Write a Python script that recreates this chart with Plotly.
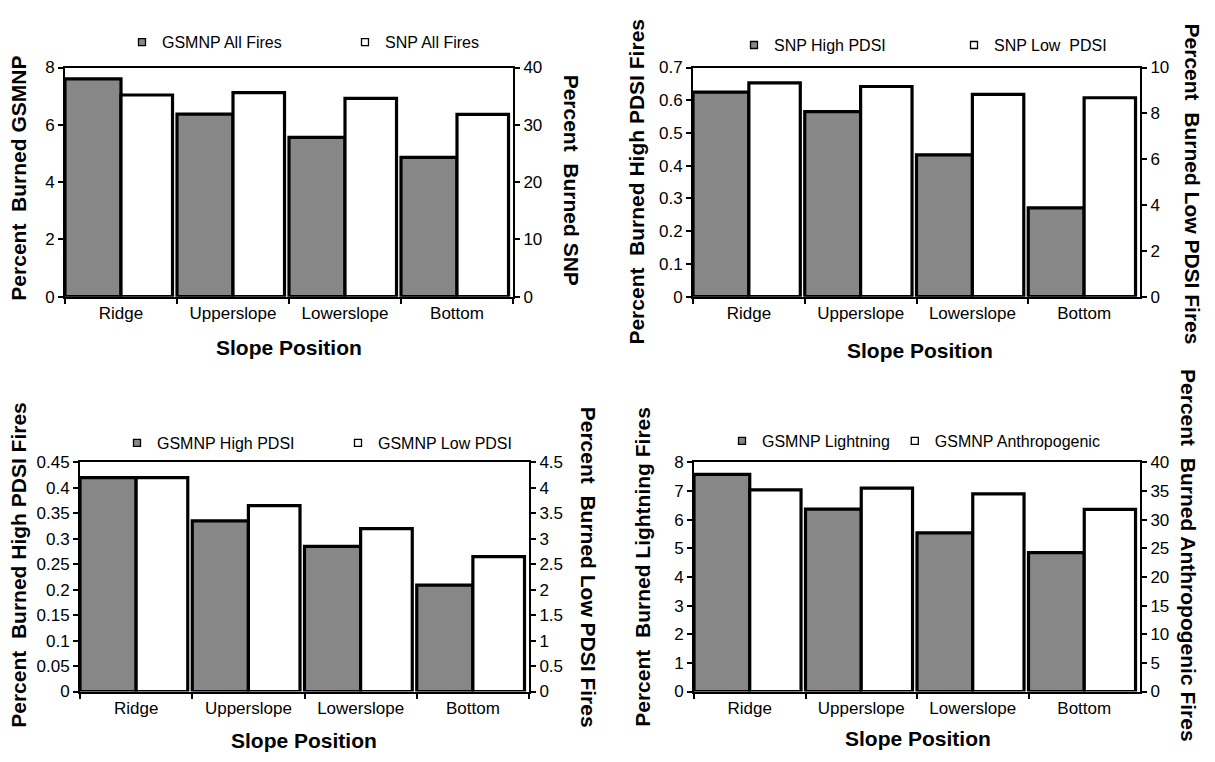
import plotly.graph_objects as go

W, H = 1215, 762

categories = ["Ridge", "Upperslope", "Lowerslope", "Bottom"]

# Panel 1 (top-left)
gsmnp_all = [7.60, 6.37, 5.56, 4.86]
snp_all = [35.2, 35.6, 34.6, 31.8]
# Panel 2 (top-right)
snp_high_pdsi = [0.625, 0.565, 0.433, 0.271]
snp_low_pdsi = [9.33, 9.17, 8.83, 8.68]
# Panel 3 (bottom-left)
gsmnp_high_pdsi = [0.420, 0.335, 0.285, 0.209]
gsmnp_low_pdsi = [4.20, 3.65, 3.20, 2.65]
# Panel 4 (bottom-right)
gsmnp_lightning = [7.58, 6.37, 5.54, 4.85]
gsmnp_anthro = [35.2, 35.5, 34.5, 31.8]

FONT = "Liberation Sans, Arial, sans-serif"
GRAY = "#878787"

def px_x(p):
    return p / W

def px_y(p):
    return 1 - p / H

panels = [
    dict(x="x", yl="y", yr="y2", xdom=(65, 513), ydom=(60, 295),
         left=gsmnp_all, right=snp_all, lnames=("GSMNP All Fires", "SNP All Fires"),
         lrange=(0, 8), ldt=2, rrange=(0, 40), rdt=10, legend="legend",
         leg=(122, 34, 178),
         ltitle="Percent\u00a0 Burned GSMNP", ltpos=(19, 174),
         rtitle="Percent\u00a0 Burned SNP", rtpos=(571, 175),
         xtpos=(289, 347)),
    dict(x="x2", yl="y3", yr="y4", xdom=(693, 1140), ydom=(60, 295),
         left=snp_high_pdsi, right=snp_low_pdsi, lnames=("SNP High PDSI", "SNP Low  PDSI"),
         lrange=(0, 0.7), ldt=0.1, rrange=(0, 10), rdt=2, legend="legend2",
         leg=(734, 37, 175),
         ltitle="Percent\u00a0 Burned High PDSI Fires", ltpos=(637, 177),
         rtitle="Percent\u00a0 Burned Low PDSI Fires", rtpos=(1192, 179),
         xtpos=(920, 350)),
    dict(x="x3", yl="y5", yr="y6", xdom=(80, 529), ydom=(465, 700),
         left=gsmnp_high_pdsi, right=gsmnp_low_pdsi, lnames=("GSMNP High PDSI", "GSMNP Low PDSI"),
         lrange=(0, 0.45), ldt=0.05, rrange=(0, 4.5), rdt=0.5, legend="legend3",
         leg=(117, 445, 176),
         ltitle="Percent\u00a0 Burned High PDSI Fires", ltpos=(19, 570),
         rtitle="Percent\u00a0 Burned Low PDSI Fires", rtpos=(588, 572),
         xtpos=(304, 750)),
    dict(x="x4", yl="y7", yr="y8", xdom=(694, 1140), ydom=(465, 700),
         left=gsmnp_lightning, right=gsmnp_anthro, lnames=("GSMNP Lightning", "GSMNP Anthropogenic"),
         lrange=(0, 8), ldt=1, rrange=(0, 40), rdt=5, legend="legend4",
         leg=(722, 443, None),
         ltitle="Percent\u00a0 Burned Lightning Fires", ltpos=(643, 572),
         rtitle="Percent\u00a0 Burned Anthropogenic Fires", rtpos=(1189, 560),
         xtpos=(918, 748)),
]

fig = go.Figure()
layout = dict(
    width=W, height=H, margin=dict(l=0, r=0, t=0, b=0),
    paper_bgcolor="white", plot_bgcolor="white",
    font=dict(family=FONT, color="black", size=17),
    barmode="overlay", showlegend=True, annotations=[],
)

def axname(ref):
    return "xaxis" + ref[1:] if ref[0] == "x" else "yaxis" + ref[1:]

for p in panels:
    # bars
    fig.add_trace(go.Bar(x=categories, y=p["left"], xaxis=p["x"], yaxis=p["yl"],
                         offset=-0.5, width=0.5, marker=dict(color=GRAY, line=dict(color="black", width=3.2)),
                         showlegend=False, name=p["lnames"][0]))
    fig.add_trace(go.Bar(x=categories, y=p["right"], xaxis=p["x"], yaxis=p["yr"],
                         offset=0.0, width=0.46, marker=dict(color="white", line=dict(color="black", width=3.2)),
                         showlegend=False, name=p["lnames"][1]))
    # legend entries
    for nm, col in zip(p["lnames"], [GRAY, "white"]):
        fig.add_trace(go.Scatter(x=[None], y=[None], mode="markers", xaxis=p["x"], yaxis=p["yl"],
                                 marker=dict(symbol="square", size=7, color=col, line=dict(color="black", width=1.3)),
                                 name=nm, legend=p["legend"], showlegend=True))
    xa = axname(p["x"]); yl = axname(p["yl"]); yr = axname(p["yr"])
    layout[xa] = dict(domain=[px_x(p["xdom"][0]), px_x(p["xdom"][1])], anchor=p["yl"],
                      type="category", range=[-0.5, 3.5], showline=True, linecolor="black", linewidth=2,
                      mirror=True, ticks="outside", tickson="boundaries", ticklen=5, tickwidth=2,
                      tickcolor="black", showgrid=False, tickfont=dict(size=17), fixedrange=True)
    layout[yl] = dict(domain=[px_y(p["ydom"][1]), px_y(p["ydom"][0])], anchor=p["x"],
                      range=list(p["lrange"]), dtick=p["ldt"], tick0=0, showline=True, linecolor="black",
                      linewidth=2, ticks="outside", ticklen=5, tickwidth=2, tickcolor="black",
                      showgrid=False, zeroline=False, tickfont=dict(size=17), fixedrange=True)
    layout[yr] = dict(overlaying=p["yl"], side="right", anchor=p["x"],
                      range=list(p["rrange"]), dtick=p["rdt"], tick0=0, showline=True, linecolor="black",
                      linewidth=2, ticks="outside", ticklen=5, tickwidth=2, tickcolor="black",
                      showgrid=False, zeroline=False, tickfont=dict(size=17), fixedrange=True)
    lx, ly, ew = p["leg"]
    leg = dict(orientation="h", x=px_x(lx), y=px_y(ly), xanchor="left", yanchor="middle",
               font=dict(size=16), bgcolor="rgba(0,0,0,0)", itemwidth=30)
    if ew:
        leg.update(entrywidth=ew, entrywidthmode="pixels")
    layout[p["legend"]] = leg
    # titles
    layout["annotations"] += [
        dict(text=p["ltitle"], x=px_x(p["ltpos"][0]), y=px_y(p["ltpos"][1]), xref="paper", yref="paper",
             textangle=-90, showarrow=False, xanchor="center", yanchor="middle",
             font=dict(size=21, weight="bold")),
        dict(text=p["rtitle"], x=px_x(p["rtpos"][0]), y=px_y(p["rtpos"][1]), xref="paper", yref="paper",
             textangle=90, showarrow=False, xanchor="center", yanchor="middle",
             font=dict(size=21, weight="bold")),
        dict(text="Slope Position", x=px_x(p["xtpos"][0]), y=px_y(p["xtpos"][1]), xref="paper", yref="paper",
             showarrow=False, xanchor="center", yanchor="middle",
             font=dict(size=21, weight="bold")),
    ]

fig.update_layout(**layout)
fig.write_html("out.html", config=dict(displayModeBar=False))
